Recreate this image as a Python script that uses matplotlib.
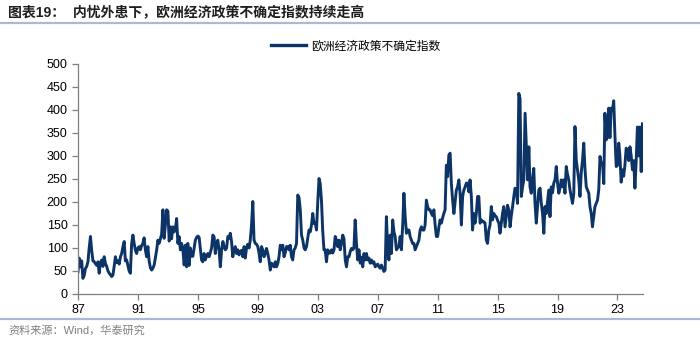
import matplotlib
matplotlib.use("Agg")
import matplotlib.pyplot as plt
import matplotlib.dates as mdates
import matplotlib.lines as mlines
import numpy as np
import pandas as pd

plt.rcParams['font.family'] = ['Liberation Sans', 'Noto Sans CJK SC', 'DejaVu Sans']

# 欧洲经济政策不确定指数, monthly, 1987-01 ~ 2024-09
epu_1987_1989 = [
    48, 78, 59, 72, 34, 40, 55, 60, 70, 100, 125, 95,
    72, 70, 66, 62, 70, 45, 68, 74, 60, 81, 66, 60,
    50, 45, 42, 38, 41, 60, 81, 68, 72, 65, 81, 88,
]
epu_1990s = [
    103, 114, 72, 74, 62, 50, 45, 110, 128, 110, 95, 88,
    100, 103, 96, 105, 110, 122, 96, 81, 103, 72, 57, 52,
    56, 63, 78, 95, 117, 110, 120, 130, 183, 121, 150, 183,
    180, 115, 146, 120, 146, 135, 140, 164, 110, 125, 96, 110,
    96, 63, 106, 59, 110, 62, 100, 82, 82, 100, 117, 123,
    126, 123, 100, 74, 70, 88, 74, 82, 88, 81, 90, 100,
    128, 124, 88, 110, 117, 96, 59, 95, 114, 103, 96, 100,
    125, 121, 132, 114, 81, 96, 103, 88, 96, 85, 92, 95,
    81, 103, 78, 100, 108, 100, 117, 150, 201, 117, 110, 108,
    103, 88, 70, 103, 96, 81, 88, 99, 88, 74, 52, 67,
]
epu_2000s = [
    63, 59, 70, 59, 66, 81, 106, 96, 106, 81, 90, 103,
    103, 96, 106, 81, 74, 96, 100, 110, 215, 210, 183, 128,
    117, 100, 96, 103, 120, 139, 135, 150, 175, 153, 155, 139,
    200, 251, 240, 204, 139, 96, 96, 70, 96, 89, 89, 96,
    89, 96, 125, 117, 103, 117, 96, 110, 128, 120, 74, 59,
    81, 81, 92, 99, 96, 100, 161, 110, 74, 96, 67, 80,
    59, 88, 74, 88, 74, 78, 67, 74, 67, 70, 59, 62,
    65, 59, 56, 63, 56, 49, 52, 168, 100, 74, 128, 88,
    161, 135, 125, 96, 100, 103, 125, 96, 150, 219, 168, 132,
    139, 139, 125, 117, 110, 110, 96, 103, 110, 117, 139, 146,
]
epu_2010s = [
    139, 139, 150, 204, 190, 183, 183, 175, 170, 183, 150, 125,
    125, 146, 161, 154, 165, 175, 183, 280, 255, 302, 306, 240,
    204, 175, 200, 226, 233, 248, 219, 150, 212, 226, 233, 241,
    241, 222, 248, 212, 139, 175, 154, 175, 212, 212, 154, 161,
    157, 157, 154, 117, 110, 139, 150, 190, 161, 175, 170, 168,
    160, 154, 132, 154, 175, 190, 146, 170, 193, 183, 146, 170,
    190, 212, 230, 226, 197, 436, 425, 212, 233, 248, 393, 320,
    248, 320, 233, 219, 250, 273, 197, 154, 190, 226, 230, 197,
    175, 132, 190, 175, 200, 226, 168, 233, 220, 241, 248, 277,
    241, 219, 230, 248, 233, 248, 219, 277, 260, 248, 226, 212,
]
epu_2020s = [
    197, 219, 364, 291, 270, 248, 212, 264, 291, 328, 270, 233,
    226, 219, 190, 175, 146, 168, 190, 197, 204, 226, 299, 284,
    284, 240, 393, 335, 340, 404, 340, 404, 400, 420, 342, 277,
    280, 328, 300, 243, 270, 256, 280, 317, 313, 290, 320, 300,
    270, 290, 230, 290, 363, 300, 363, 266, 370,
]

title = "图表19：  内忧外患下，欧洲经济政策不确定指数持续走高"
series_name = "欧洲经济政策不确定指数"
source = "资料来源：Wind，华泰研究"
tick_years = [1987, 1991, 1995, 1999, 2003, 2007, 2011, 2015, 2019, 2023]

values = np.array(epu_1987_1989 + epu_1990s + epu_2000s + epu_2010s + epu_2020s)
dates = pd.date_range("1987-01-01", periods=len(values), freq="MS")

navy = "#0C3466"
rule = "#A9BAD3"

fig = plt.figure(figsize=(7.0, 3.42), dpi=100)
ax = fig.add_axes([0.1114, 0.1404, 0.807, 0.6725])

ax.plot(dates, values, color=navy, lw=2.1, solid_joinstyle="round")

ax.set_ylim(0, 500)
ax.set_yticks(np.arange(0, 501, 50))
ax.set_xlim(dates[0], dates[-1] + pd.Timedelta(days=10))
ax.set_xticks([pd.Timestamp(f"{y}-01-01") for y in tick_years])
ax.xaxis.set_major_formatter(mdates.DateFormatter("%y"))

for s in ["top", "right"]:
    ax.spines[s].set_visible(False)
for s in ["left", "bottom"]:
    ax.spines[s].set_color("#7F7F7F")
    ax.spines[s].set_linewidth(0.9)
ax.tick_params(axis="both", colors="#7F7F7F", labelcolor="#000000",
               labelsize=9, length=4, width=0.9, direction="out")
ax.tick_params(axis="x", pad=3)

handle = mlines.Line2D([], [], color=navy, lw=2.4)
fig.legend([handle], [series_name], loc="center", bbox_to_anchor=(0.508, 0.865),
           frameon=False, fontsize=8.5, handlelength=3.0, handletextpad=0.4)

fig.text(0.012, 0.962, title, fontsize=10, fontweight="bold", color="#1E1E1E",
         va="center", ha="left")
fig.add_artist(mlines.Line2D([0, 1], [0.933, 0.933], color=rule, lw=1.6,
                             transform=fig.transFigure))
fig.add_artist(mlines.Line2D([0, 1], [0.067, 0.067], color=rule, lw=1.6,
                             transform=fig.transFigure))
fig.text(0.012, 0.035, source, fontsize=8, color="#808080", va="center", ha="left")

fig.savefig("out.png", dpi=100)
